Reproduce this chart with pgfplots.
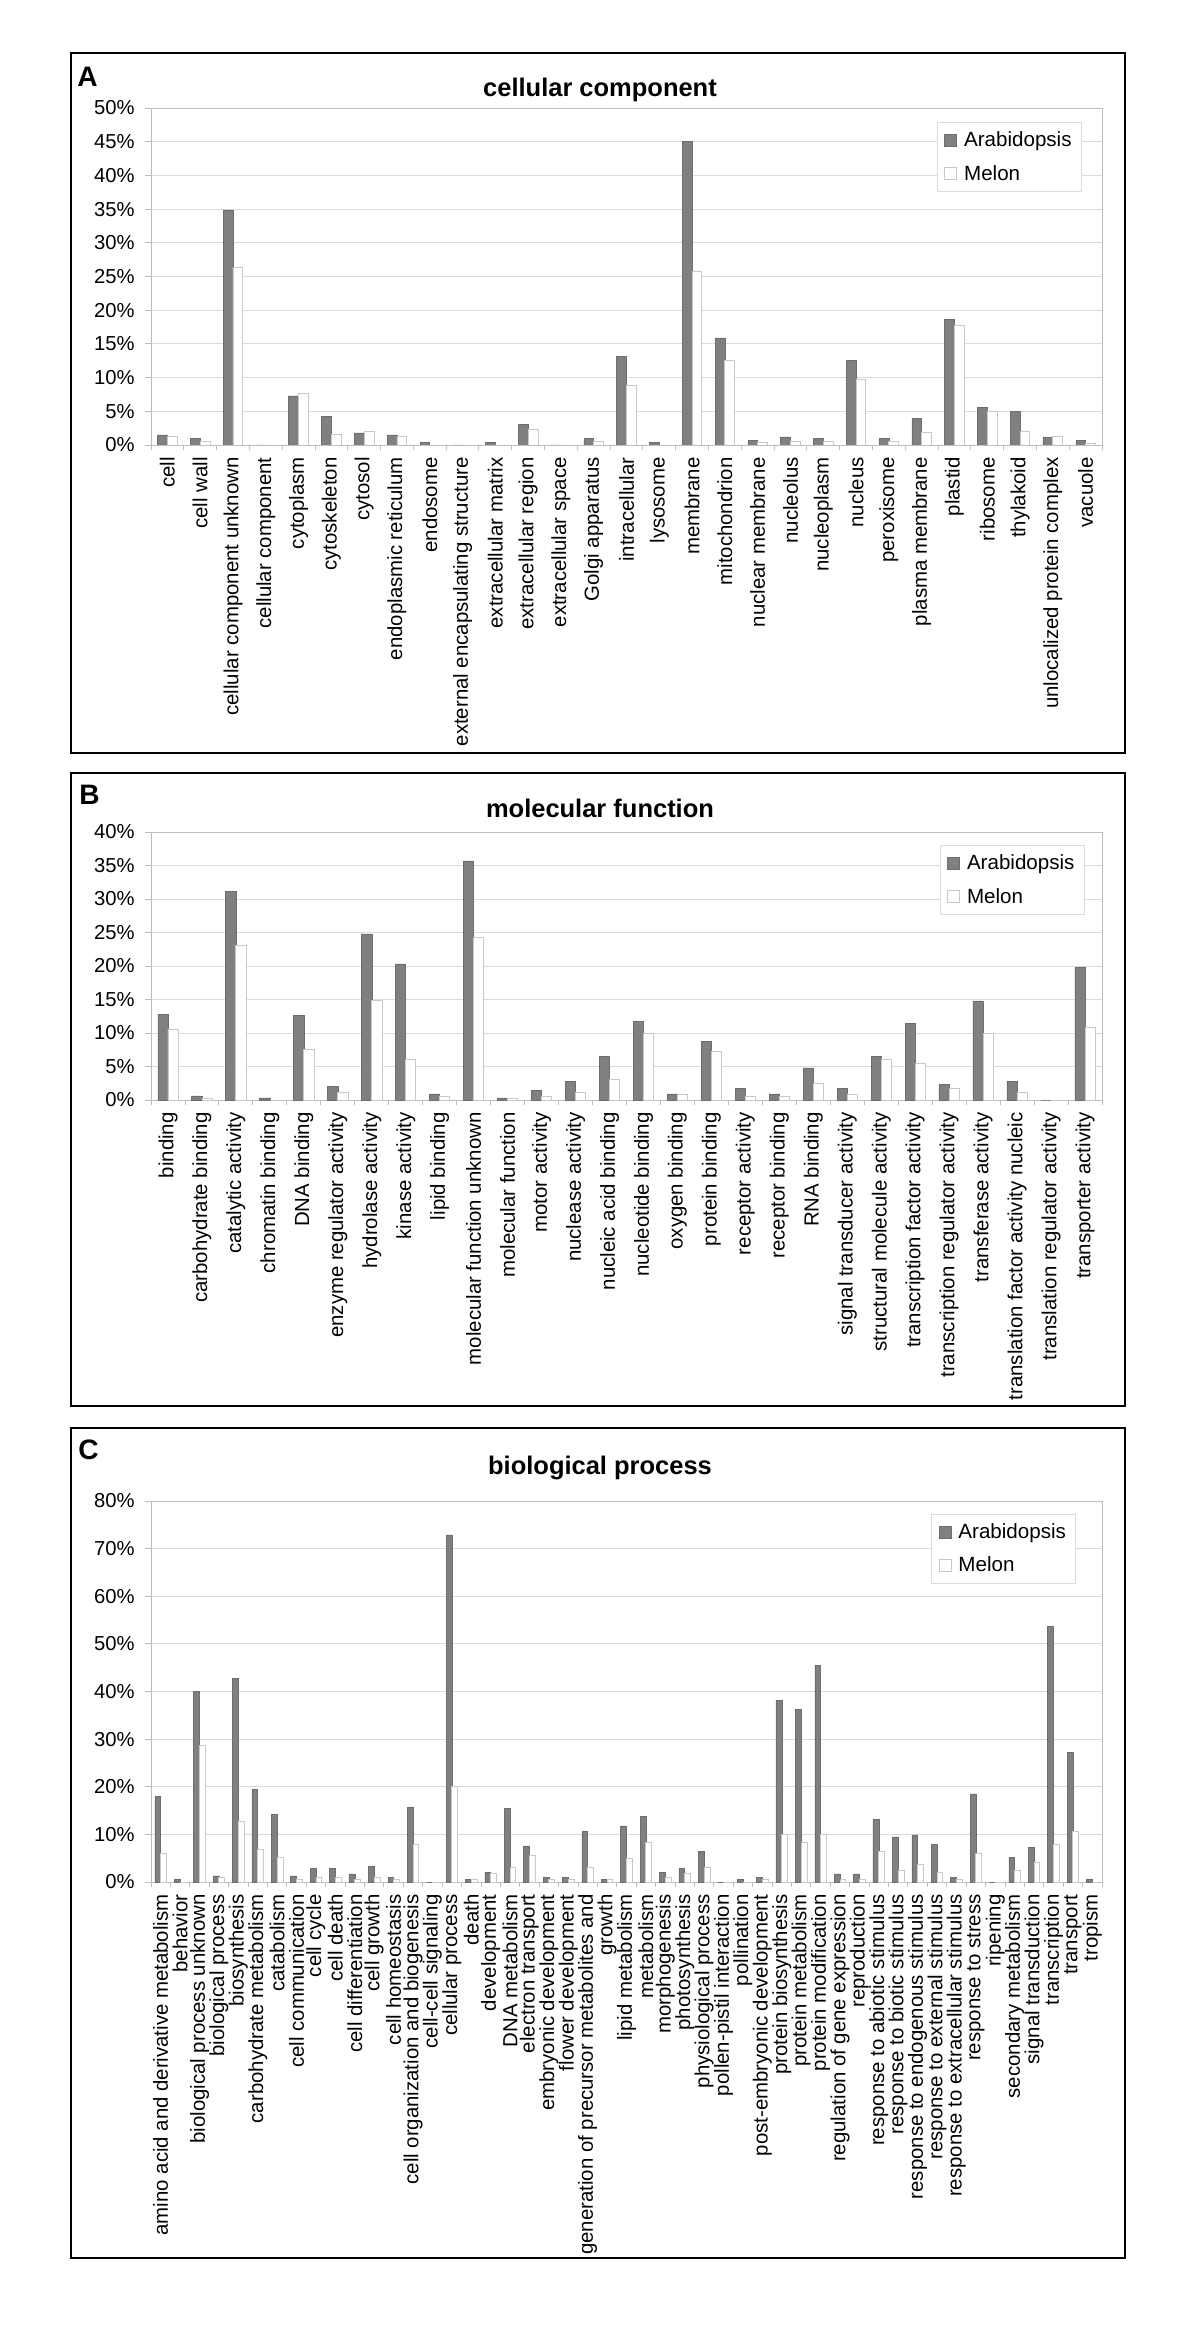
\documentclass[border=0pt]{standalone}
\usepackage{fontspec}
\setmainfont{Liberation Sans}
\usepackage{pgfplots}
\pgfplotsset{compat=1.18}

\definecolor{arab}{RGB}{128,128,128}
\definecolor{gridc}{RGB}{218,218,218}
\definecolor{axisc}{RGB}{190,190,190}
\definecolor{melonc}{RGB}{200,200,200}

\pgfplotsset{
  sqlegend/.style={legend image code/.code={\draw[##1] (0mm,-1.2mm) rectangle (2.4mm,1.2mm);}},
  arabbar/.style={fill=arab, draw=arab!85!black, line width=0.3pt, sqlegend},
  melonbar/.style={fill=white, draw=melonc, line width=0.5pt, sqlegend},
  gopanel/.style={
    ybar=0pt, bar width=0.3,
    scale only axis, width=190.2mm,
    enlarge x limits=false,
    ymin=0,
    axis line style={axisc, line width=0.5pt},
    ymajorgrids, grid style={gridc, line width=0.5pt},
    tick align=outside, xtick pos=bottom, ytick pos=left,
    major tick length=1.2mm, minor tick length=1mm,
    major x tick style={draw=none},
    minor x tick style={axisc, line width=0.5pt},
    ytick style={axisc, line width=0.5pt},
    yticklabel={\pgfmathprintnumber[assume math mode=true]{\tick}\%},
    yticklabel style={font=\fontsize{11.5}{13}\selectfont, inner sep=0pt, xshift=-2mm},
    xticklabel style={rotate=90, anchor=east, font=\fontsize{11.6}{13}\selectfont, inner sep=0pt},
    xticklabel shift=1.2mm,
    legend cell align=left,
    legend style={draw=gridc, fill=white, line width=0.5pt,
      font=\fontsize{11.7}{13}\selectfont, anchor=north east,
      inner xsep=1.4mm, inner ysep=1.2mm, row sep=2mm,
      nodes={inner sep=0.6mm},
      /tikz/every odd column/.append style={column sep=0.8mm}},
  },
}

\begin{document}
\begin{tikzpicture}
\path[use as bounding box] (0,0) rectangle (240mm,-465.4mm);

% ---------------- A: cellular component ----------------
\begin{axis}[gopanel,
  at={(30.2mm,-21.6mm)}, anchor=north west, height=67.4mm,
  xmin=-0.5, xmax=28.5, ymax=50,
  ytick={0,5,...,50},
  xtick={0,...,28},
  minor xtick={-0.5,0.5,...,28.5},
  xticklabels={cell, cell wall, cellular component unknown, cellular component,
    cytoplasm, cytoskeleton, cytosol, endoplasmic reticulum, endosome,
    external encapsulating structure, extracellular matrix, extracellular region,
    extracellular space, Golgi apparatus, intracellular, lysosome, membrane,
    mitochondrion, nuclear membrane, nucleolus, nucleoplasm, nucleus, peroxisome,
    plasma membrane, plastid, ribosome, thylakoid, unlocalized protein complex, vacuole},
  legend style={at={(0.979,0.958)}},
]
\addplot[arabbar] coordinates {
  (0,1.5) (1,1.0) (2,34.9) (3,0) (4,7.3) (5,4.2) (6,1.8) (7,1.5) (8,0.35) (9,0)
  (10,0.35) (11,3.1) (12,0) (13,1.0) (14,13.2) (15,0.35) (16,45.0) (17,15.9)
  (18,0.64) (19,1.2) (20,0.94) (21,12.5) (22,0.94) (23,4.0) (24,18.6) (25,5.6)
  (26,5.0) (27,1.2) (28,0.64)};
\addplot[melonbar] coordinates {
  (0,1.2) (1,0.6) (2,26.4) (3,0) (4,7.6) (5,1.5) (6,2.0) (7,1.2) (8,0) (9,0)
  (10,0) (11,2.3) (12,0) (13,0.6) (14,8.9) (15,0) (16,25.8) (17,12.5)
  (18,0.35) (19,0.6) (20,0.6) (21,9.8) (22,0.6) (23,1.8) (24,17.8) (25,5.0)
  (26,2.0) (27,1.2) (28,0.3)};
\legend{Arabidopsis, Melon}
\end{axis}

% ---------------- B: molecular function ----------------
\begin{axis}[gopanel,
  at={(30.2mm,-166.4mm)}, anchor=north west, height=53.6mm,
  xmin=-0.5, xmax=27.5, ymax=40,
  ytick={0,5,...,40},
  xtick={0,...,27},
  minor xtick={-0.5,0.5,...,27.5},
  xticklabels={binding, carbohydrate binding, catalytic activity, chromatin binding,
    DNA binding, enzyme regulator activity, hydrolase activity, kinase activity,
    lipid binding, molecular function unknown, molecular function, motor activity,
    nuclease activity, nucleic acid binding, nucleotide binding, oxygen binding,
    protein binding, receptor activity, receptor binding, RNA binding,
    signal transducer activity, structural molecule activity,
    transcription factor activity, transcription regulator activity,
    transferase activity, translation factor activity nucleic,
    translation regulator activity, transporter activity},
  legend style={at={(0.982,0.951)}},
]
\addplot[arabbar] coordinates {
  (0,12.8) (1,0.6) (2,31.1) (3,0.3) (4,12.6) (5,2.0) (6,24.8) (7,20.3) (8,0.9)
  (9,35.7) (10,0.3) (11,1.4) (12,2.8) (13,6.5) (14,11.7) (15,0.9) (16,8.7)
  (17,1.7) (18,0.9) (19,4.8) (20,1.7) (21,6.5) (22,11.4) (23,2.3) (24,14.8)
  (25,2.8) (26,0) (27,19.8)};
\addplot[melonbar] coordinates {
  (0,10.6) (1,0.3) (2,23.1) (3,0) (4,7.6) (5,1.1) (6,14.8) (7,6.1) (8,0.6)
  (9,24.2) (10,0.3) (11,0.6) (12,1.1) (13,3.1) (14,10.0) (15,0.9) (16,7.3)
  (17,0.6) (18,0.6) (19,2.5) (20,0.9) (21,6.1) (22,5.5) (23,1.7) (24,9.9)
  (25,1.1) (26,0) (27,10.9)};
\legend{Arabidopsis, Melon}
\end{axis}

% ---------------- C: biological process ----------------
\begin{axis}[gopanel,
  at={(30.2mm,-300.2mm)}, anchor=north west, height=76.2mm,
  xmin=-0.5, xmax=48.5, ymax=80,
  ytick={0,10,...,80},
  xtick={0,...,48},
  minor xtick={-0.5,0.5,...,48.5},
  xticklabels={amino acid and derivative metabolism, behavior,
    biological process unknown, biological process, biosynthesis,
    carbohydrate metabolism, catabolism, cell communication, cell cycle,
    cell death, cell differentiation, cell growth, cell homeostasis,
    cell organization and biogenesis, cell-cell signaling, cellular process,
    death, development, DNA metabolism, electron transport,
    embryonic development, flower development,
    generation of precursor metabolites and, growth, lipid metabolism,
    metabolism, morphogenesis, photosynthesis, physiological process,
    pollen-pistil interaction, pollination, post-embryonic development,
    protein biosynthesis, protein metabolism, protein modification,
    regulation of gene expression, reproduction, response to abiotic stimulus,
    response to biotic stimulus, response to endogenous stimulus,
    response to external stimulus, response to extracellular stimulus,
    response to stress, ripening, secondary metabolism, signal transduction,
    transcription, transport, tropism},
  legend style={at={(0.973,0.966)}},
]
\addplot[arabbar] coordinates {
  (0,18.0) (1,0.5) (2,40.0) (3,1.3) (4,42.8) (5,19.4) (6,14.2) (7,1.3) (8,2.9)
  (9,2.9) (10,1.7) (11,3.3) (12,0.9) (13,15.7) (14,0) (15,72.9) (16,0.5)
  (17,2.0) (18,15.4) (19,7.6) (20,0.9) (21,0.9) (22,10.6) (23,0.5) (24,11.8)
  (25,13.8) (26,2.0) (27,2.9) (28,6.4) (29,0) (30,0.5) (31,0.9) (32,38.1)
  (33,36.2) (34,45.5) (35,1.7) (36,1.7) (37,13.1) (38,9.5) (39,9.9) (40,7.9)
  (41,0.9) (42,18.5) (43,0) (44,5.2) (45,7.2) (46,53.7) (47,27.2) (48,0.5)};
\addplot[melonbar] coordinates {
  (0,5.9) (1,0) (2,28.7) (3,0.9) (4,12.7) (5,6.8) (6,5.2) (7,0.5) (8,0.9)
  (9,0.9) (10,0.5) (11,0.9) (12,0.5) (13,7.9) (14,0) (15,20.0) (16,0.5)
  (17,1.7) (18,3.1) (19,5.6) (20,0.5) (21,0.5) (22,3.1) (23,0.5) (24,4.9)
  (25,8.3) (26,0.9) (27,1.7) (28,3.1) (29,0) (30,0) (31,0.5) (32,9.9)
  (33,8.3) (34,9.9) (35,0.5) (36,0.5) (37,6.4) (38,2.4) (39,3.7) (40,2.0)
  (41,0.5) (42,5.9) (43,0) (44,2.4) (45,4.1) (46,7.9) (47,10.6) (48,0)};
\legend{Arabidopsis, Melon}
\end{axis}

% ---------------- frames, panel letters, titles ----------------
\begin{scope}[x=0.2mm, y=-0.2mm]
  \draw[line width=0.55mm] (71,53) rectangle (1125,753);
  \draw[line width=0.55mm] (71,773) rectangle (1125,1406);
  \draw[line width=0.55mm] (71,1428) rectangle (1125,2258);
  \node[anchor=west, inner sep=0pt, font=\fontsize{16}{16}\selectfont\bfseries] at (77,77) {A};
  \node[anchor=west, inner sep=0pt, font=\fontsize{16}{16}\selectfont\bfseries] at (79,795) {B};
  \node[anchor=west, inner sep=0pt, font=\fontsize{16}{16}\selectfont\bfseries] at (78,1450) {C};
  \node[inner sep=0pt, font=\fontsize{14.5}{15}\selectfont\bfseries] at (600,90) {cellular component};
  \node[inner sep=0pt, font=\fontsize{14.5}{15}\selectfont\bfseries] at (600,808) {molecular function};
  \node[inner sep=0pt, font=\fontsize{14.5}{15}\selectfont\bfseries] at (600,1468) {biological process};
\end{scope}
\end{tikzpicture}
\end{document}
